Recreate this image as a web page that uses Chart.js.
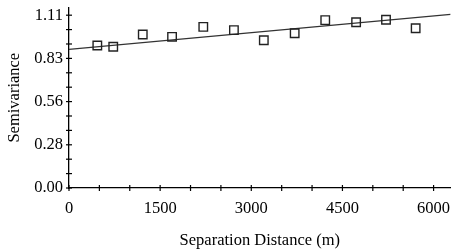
<!DOCTYPE html>
<html><head><meta charset="utf-8">
<script src="https://cdn.jsdelivr.net/npm/chart.js@4/dist/chart.umd.min.js"></script>
<style>html,body{margin:0;padding:0;background:#fff}#w{width:458px;height:250px}</style>
</head><body><div id="w"><canvas id="c"></canvas></div>
<script>
const distances = [466, 728, 1214, 1696, 2210, 2714, 3206, 3714, 4217, 4725, 5217, 5705];
const semivariance = [0.915, 0.907, 0.986, 0.971, 1.035, 1.014, 0.949, 0.994, 1.078, 1.065, 1.081, 1.026];
const fitX = [0, 6280];
const fitY = [0.891, 1.115];
const yTickValues = [0, 0.0925, 0.185, 0.2775, 0.37, 0.4625, 0.555, 0.6475, 0.74, 0.8325, 0.925, 1.0175, 1.11];
const yTickLabels = ["0.00", "", "", "0.28", "", "", "0.56", "", "", "0.83", "", "", "1.11"];
const xTickValues = [0, 500, 1000, 1500, 2000, 2500, 3000, 3500, 4000, 4500, 5000, 5500, 6000];
const xTickLabels = ["0", "", "", "1500", "", "", "3000", "", "", "4500", "", "", "6000"];
const fam = "'Liberation Serif', 'DejaVu Serif', serif";
const font = {family: fam, size: 16.5};
const titleFont = {family: fam, size: 16.5, lineHeight: 1.0};

const crossTicks = {
  id: 'crossTicks',
  afterDraw(chart) {
    const {ctx, scales: {x, y}} = chart;
    ctx.save();
    ctx.strokeStyle = '#000';
    ctx.lineWidth = 1.2;
    const ax = x.getPixelForValue(0), ay = y.getPixelForValue(0);
    x.ticks.forEach(t => {
      const px = x.getPixelForValue(t.value);
      ctx.beginPath(); ctx.moveTo(px, ay - 3); ctx.lineTo(px, ay + 3); ctx.stroke();
    });
    y.ticks.forEach(t => {
      const py = y.getPixelForValue(t.value);
      ctx.beginPath(); ctx.moveTo(ax - 3, py); ctx.lineTo(ax + 3, py); ctx.stroke();
    });
    ctx.restore();
  }
};

new Chart(document.getElementById('c'), {
  type: 'scatter',
  data: {
    datasets: [
      {
        data: distances.map((d, i) => ({x: d, y: semivariance[i]})),
        pointStyle: 'rect', radius: 6, borderColor: '#222', borderWidth: 1.4,
        backgroundColor: 'rgba(0,0,0,0)'
      },
      {
        type: 'line',
        data: fitX.map((d, i) => ({x: d, y: fitY[i]})),
        borderColor: '#333', borderWidth: 1.3, pointRadius: 0, fill: false
      }
    ]
  },
  options: {
    responsive: true, maintainAspectRatio: false, animation: false,
    layout: {padding: {top: 7, right: 6, left: 5, bottom: 0}},
    plugins: {legend: {display: false}, tooltip: {enabled: false}},
    scales: {
      x: {
        type: 'linear', min: 0, max: 6280,
        afterBuildTicks: s => { s.ticks = xTickValues.map(v => ({value: v})); },
        ticks: {color: '#000', font, padding: 11, maxRotation: 0, autoSkip: false,
          callback: (v, i) => xTickLabels[i]},
        grid: {display: false, drawTicks: false},
        border: {color: '#000', width: 1.3},
        title: {display: true, text: 'Separation Distance (m)', color: '#000', font: titleFont, padding: {top: 0, bottom: 1}},
        afterFit: s => { s.height = 62; s.paddingRight = 0; s.paddingLeft = 0; }
      },
      y: {
        type: 'linear', min: 0, max: 1.16,
        afterBuildTicks: s => { s.ticks = yTickValues.map(v => ({value: v})); },
        ticks: {color: '#000', font, padding: 6, autoSkip: false,
          callback: (v, i) => yTickLabels[i]},
        grid: {display: false, drawTicks: false},
        border: {color: '#000', width: 1.3},
        title: {display: true, text: 'Semivariance', color: '#000', font, padding: {top: 0, bottom: 2}},
        afterFit: s => { s.width = 64; s.paddingTop = 0; s.paddingBottom = 0; }
      }
    }
  },
  plugins: [crossTicks]
});
</script></body></html>
